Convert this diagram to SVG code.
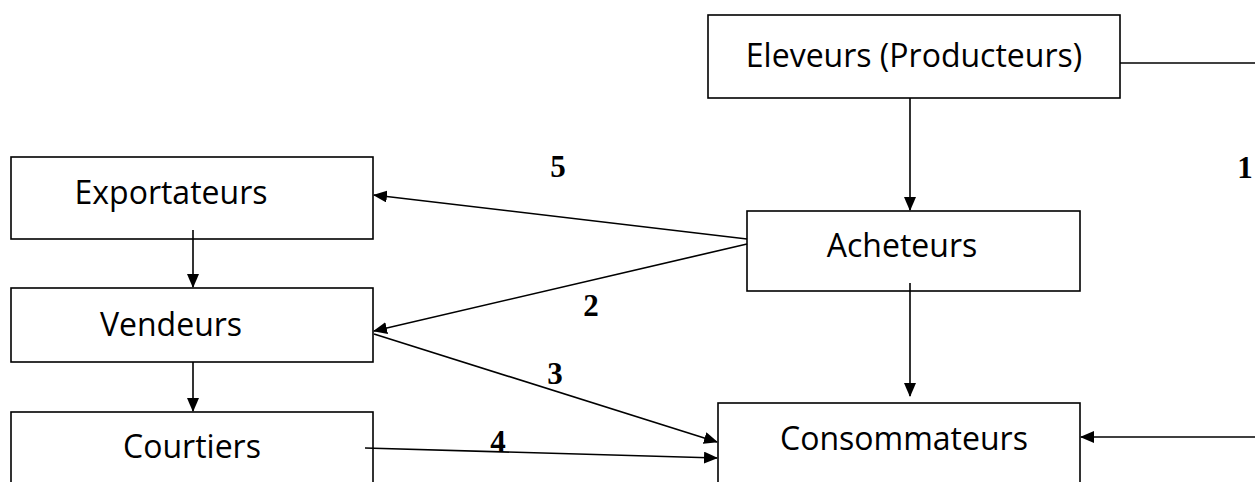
<svg xmlns="http://www.w3.org/2000/svg" width="1255" height="482" viewBox="0 0 1255 482">
<style>
.box{fill:#fff;stroke:#000;stroke-width:1.6}
.lbl{font-family:"Open Sans","Liberation Sans",sans-serif;font-size:32px;fill:#000;text-anchor:middle}
.num{font-family:"Liberation Serif",serif;font-weight:bold;font-size:31px;fill:#000;text-anchor:middle}
.ln{stroke:#000;stroke-width:1.6;fill:none}
</style>
<defs>
<marker id="ah" markerWidth="14" markerHeight="12" refX="13" refY="6" orient="auto" markerUnits="userSpaceOnUse">
<path d="M0,0 L14,6 L0,12 Z" fill="#000"/>
</marker>
</defs>
<rect width="1255" height="482" fill="#fff"/>
<g id="eleveurs"><rect class="box" x="708" y="15" width="412" height="83"/><text class="lbl" x="914" y="67">Eleveurs (Producteurs)</text></g>
<g id="acheteurs"><rect class="box" x="747" y="211" width="333" height="80"/><text class="lbl" x="902" y="257">Acheteurs</text></g>
<g id="consommateurs"><rect class="box" x="718" y="403" width="362" height="90"/><text class="lbl" x="904" y="450">Consommateurs</text></g>
<g id="exportateurs"><rect class="box" x="11" y="157" width="362" height="82"/><text class="lbl" x="171" y="204">Exportateurs</text></g>
<g id="vendeurs"><rect class="box" x="11" y="288" width="362" height="74"/><text class="lbl" x="171" y="336">Vendeurs</text></g>
<g id="courtiers"><rect class="box" x="11" y="412" width="362" height="80"/><text class="lbl" x="192" y="458">Courtiers</text></g>
<g id="connectors">
<line class="ln" x1="1120" y1="63" x2="1255" y2="63"/>
<line class="ln" x1="1255" y1="437" x2="1081" y2="437" marker-end="url(#ah)"/>
<line class="ln" x1="910" y1="98" x2="910" y2="210" marker-end="url(#ah)"/>
<line class="ln" x1="910" y1="283" x2="910" y2="396" marker-end="url(#ah)"/>
<line class="ln" x1="193" y1="230" x2="193" y2="287" marker-end="url(#ah)"/>
<line class="ln" x1="193" y1="362" x2="193" y2="411" marker-end="url(#ah)"/>
<line class="ln" x1="747" y1="239" x2="374" y2="195" marker-end="url(#ah)"/>
<line class="ln" x1="747" y1="244" x2="374" y2="331" marker-end="url(#ah)"/>
<line class="ln" x1="374" y1="334" x2="717" y2="442" marker-end="url(#ah)"/>
<line class="ln" x1="365" y1="448" x2="717" y2="458" marker-end="url(#ah)"/>
<text class="num" x="558" y="177">5</text>
<text class="num" x="591" y="316">2</text>
<text class="num" x="555" y="384">3</text>
<text class="num" x="498" y="452">4</text>
<text class="num" x="1245" y="178">1</text>
</g>
</svg>
